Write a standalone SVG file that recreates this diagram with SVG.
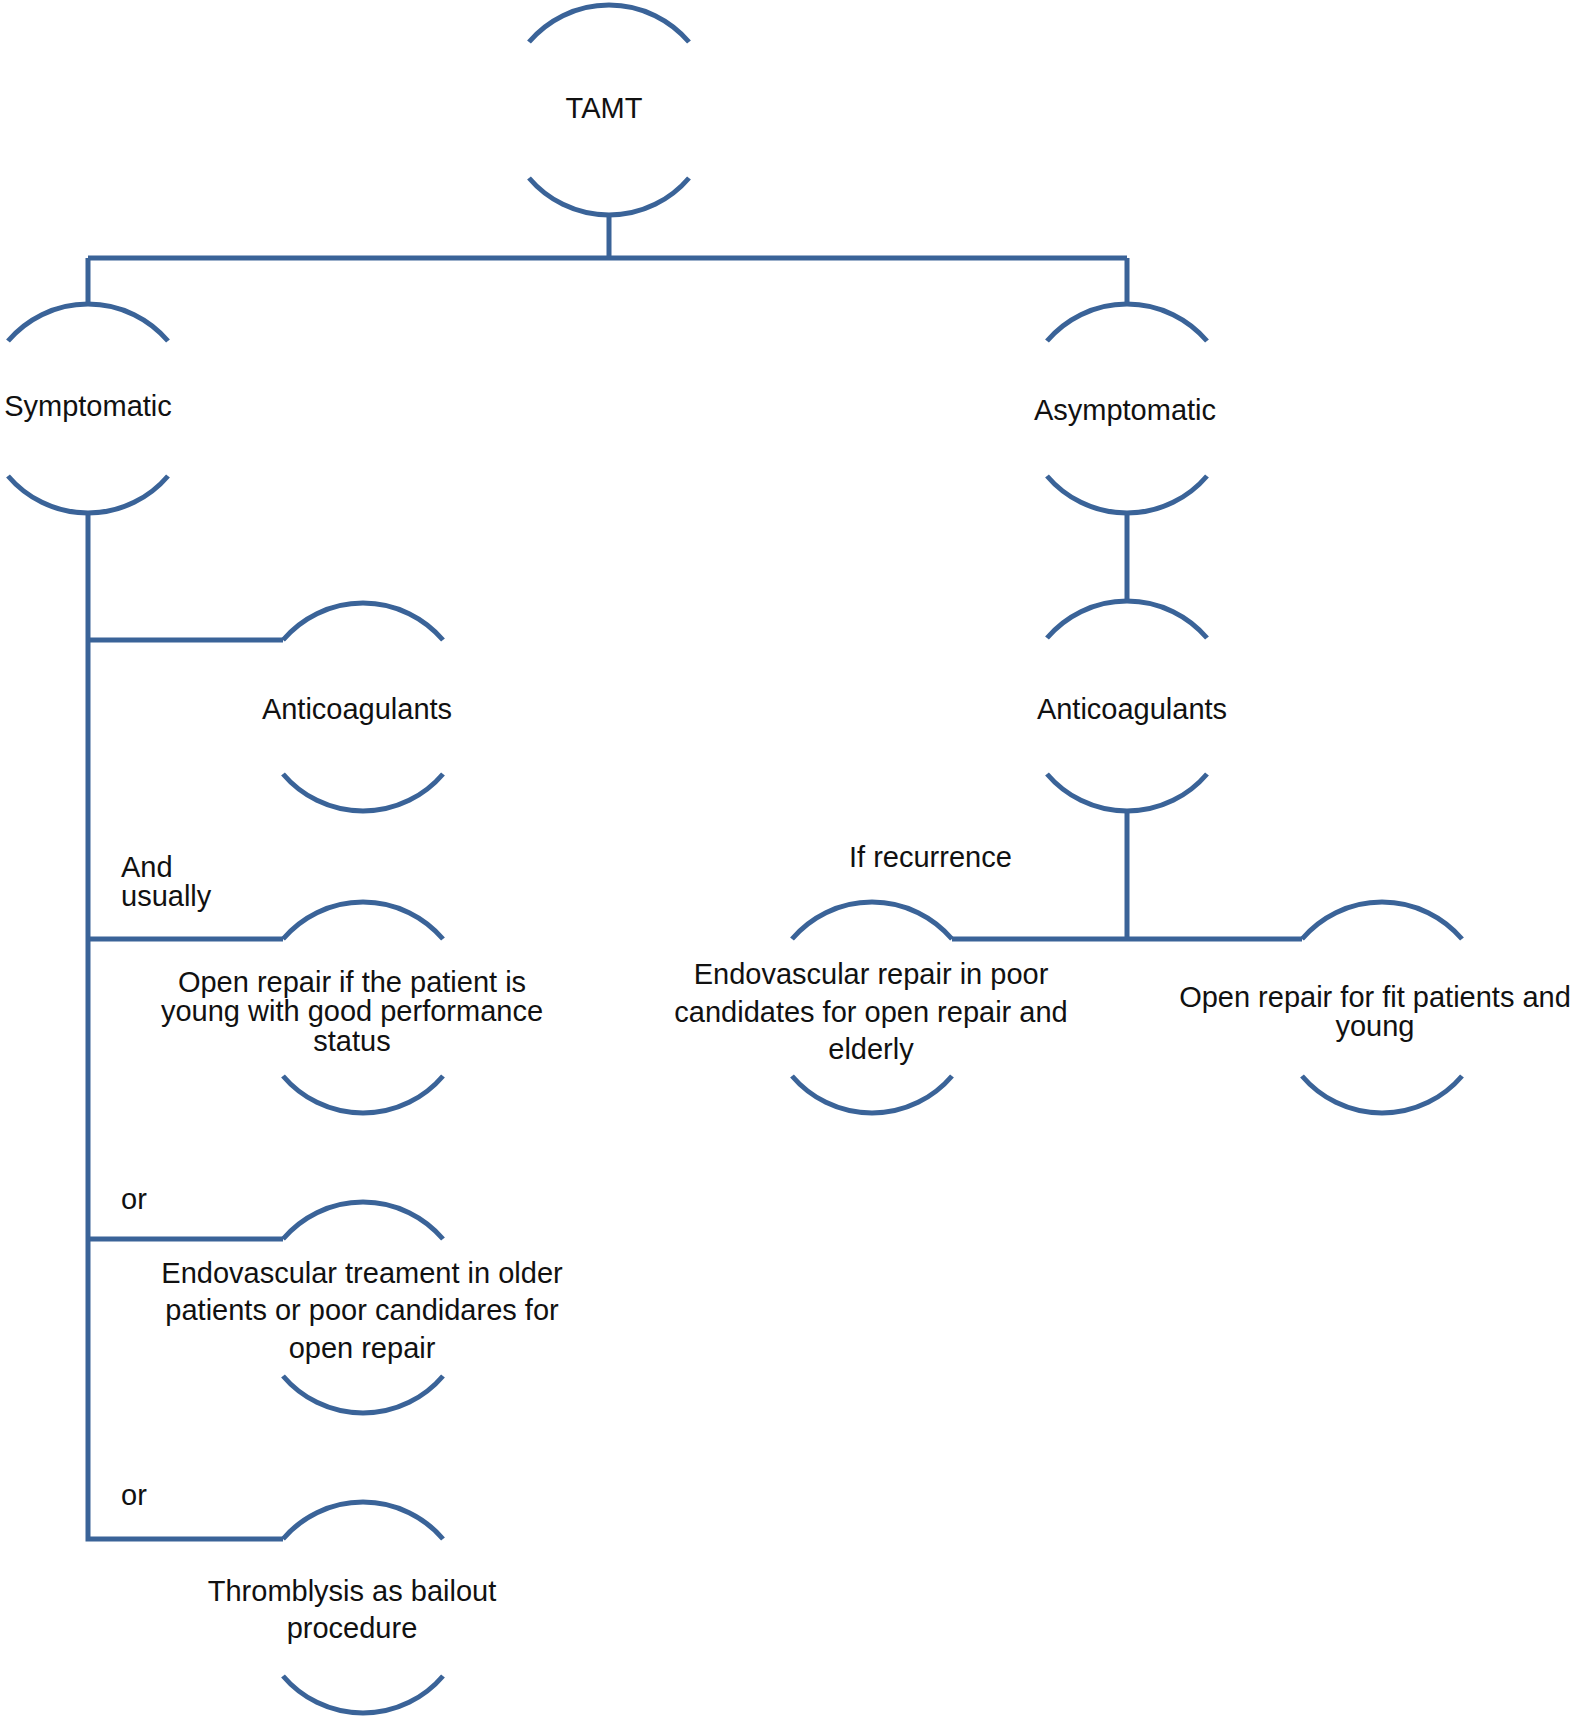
<svg xmlns="http://www.w3.org/2000/svg" width="1575" height="1716" viewBox="0 0 1575 1716">
<style>
.arc{fill:none;stroke:#3a6398;stroke-width:5;stroke-linecap:butt}
.ln{fill:none;stroke:#3a6398;stroke-width:5;stroke-linejoin:miter;stroke-linecap:butt}
text{font-family:"Liberation Sans",Arial,Helvetica,sans-serif;font-size:29px;fill:#111}
.c{text-anchor:middle}
</style>
<rect width="1575" height="1716" fill="#fff"/>
<g id="connectors">
<path class="ln" d="M609,215 V258 M88,258 H1127 M88,258 V303 M1127,258 V303"/>
<path class="ln" d="M1127,513 V601"/>
<path class="ln" d="M88,513 V1539 H283"/>
<path class="ln" d="M88,640 H283 M88,939 H283 M88,1239 H283"/>
<path class="ln" d="M1127,813 V939 M952,939 H1302"/>
</g>
<g id="node-tamt">
<path class="arc" d="M529,42 A105,105 0 0 1 689,42"/>
<path class="arc" d="M529,178 A105,105 0 0 0 689,178"/>
<text class="c" x="604" y="118">TAMT</text>
</g>
<g id="node-symptomatic">
<path class="arc" d="M8,341 A105,105 0 0 1 168,341"/>
<path class="arc" d="M8,476 A105,105 0 0 0 168,476"/>
<text class="c" x="88" y="416">Symptomatic</text>
</g>
<g id="node-asymptomatic">
<path class="arc" d="M1047,341 A105,105 0 0 1 1207,341"/>
<path class="arc" d="M1047,476 A105,105 0 0 0 1207,476"/>
<text class="c" x="1125" y="420">Asymptomatic</text>
</g>
<g id="node-anticoag-right">
<path class="arc" d="M1047,638 A105,105 0 0 1 1207,638"/>
<path class="arc" d="M1047,774 A105,105 0 0 0 1207,774"/>
<text class="c" x="1132" y="719">Anticoagulants</text>
</g>
<g id="node-anticoag-left">
<path class="arc" d="M283,640 A105,105 0 0 1 443,640"/>
<path class="arc" d="M283,774 A105,105 0 0 0 443,774"/>
<text class="c" x="357" y="719">Anticoagulants</text>
</g>
<g id="label-and-usually">
<text x="121" y="877">And</text>
<text x="121" y="906">usually</text>
</g>
<g id="node-open-repair-left">
<path class="arc" d="M283,939 A105,105 0 0 1 443,939"/>
<path class="arc" d="M283,1076 A105,105 0 0 0 443,1076"/>
<text class="c" x="352" y="992">Open repair if the patient is</text>
<text class="c" x="352" y="1021">young with good performance</text>
<text class="c" x="352" y="1051">status</text>
</g>
<g id="label-or-1"><text x="121" y="1209">or</text></g>
<g id="node-endo-left">
<path class="arc" d="M283,1239 A105,105 0 0 1 443,1239"/>
<path class="arc" d="M283,1376 A105,105 0 0 0 443,1376"/>
<text class="c" x="362" y="1283">Endovascular treament in older</text>
<text class="c" x="362" y="1320">patients or poor candidares for</text>
<text class="c" x="362" y="1358">open repair</text>
</g>
<g id="label-or-2"><text x="121" y="1505">or</text></g>
<g id="node-thrombolysis">
<path class="arc" d="M283,1539 A105,105 0 0 1 443,1539"/>
<path class="arc" d="M283,1676 A105,105 0 0 0 443,1676"/>
<text class="c" x="352" y="1601">Thromblysis as bailout</text>
<text class="c" x="352" y="1638">procedure</text>
</g>
<g id="label-if-recurrence"><text x="849" y="867">If recurrence</text></g>
<g id="node-endo-right">
<path class="arc" d="M792,939 A105,105 0 0 1 952,939"/>
<path class="arc" d="M792,1076 A105,105 0 0 0 952,1076"/>
<text class="c" x="871" y="984">Endovascular repair in poor</text>
<text class="c" x="871" y="1022">candidates for open repair and</text>
<text class="c" x="871" y="1059">elderly</text>
</g>
<g id="node-open-repair-right">
<path class="arc" d="M1302,939 A105,105 0 0 1 1462,939"/>
<path class="arc" d="M1302,1076 A105,105 0 0 0 1462,1076"/>
<text class="c" x="1375" y="1007">Open repair for fit patients and</text>
<text class="c" x="1375" y="1036">young</text>
</g>
</svg>
